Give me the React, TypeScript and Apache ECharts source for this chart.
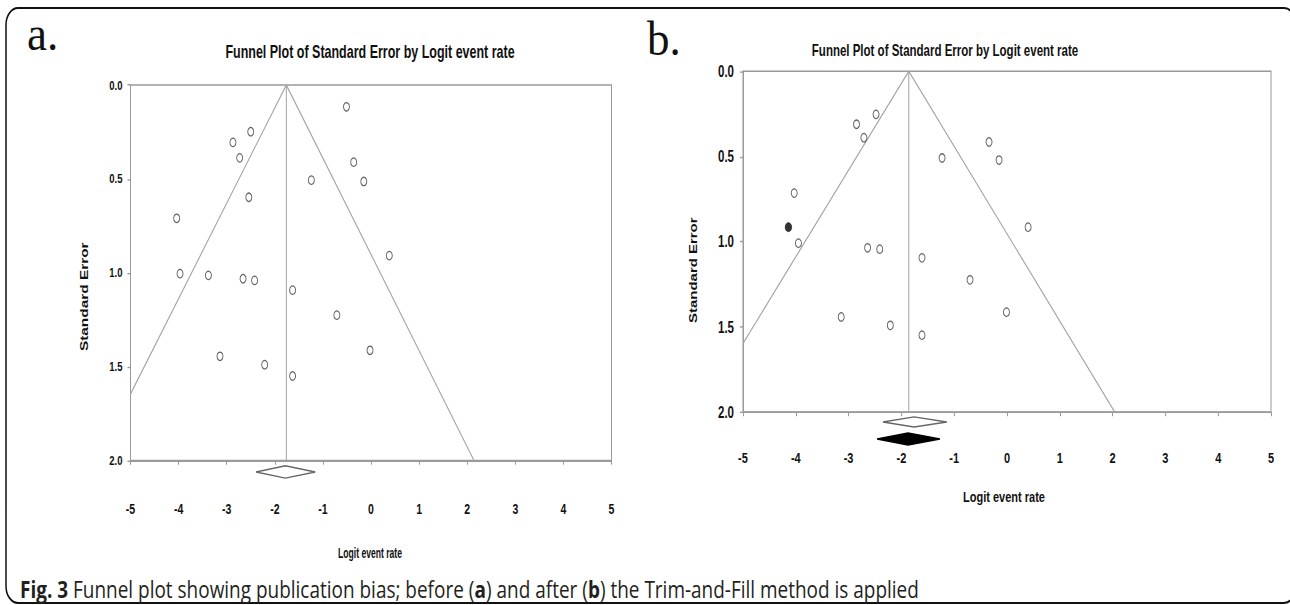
import React, { useEffect, useRef } from "react";
import * as echarts from "echarts";

// ---------- data ----------
const xTickValues = [-5, -4, -3, -2, -1, 0, 1, 2, 3, 4, 5];
const seTickValues = [0, 0.5, 1.0, 1.5, 2.0];

// panel a: observed studies [logit event rate, standard error]
const studiesA: [number, number][] = [
  [-0.51, 0.116], [-2.5, 0.249], [-2.87, 0.306], [-2.73, 0.388], [-0.36, 0.411],
  [-1.24, 0.507], [-0.15, 0.514], [-2.54, 0.598], [-4.04, 0.71], [0.38, 0.909],
  [-3.97, 1.005], [-3.38, 1.014], [-2.66, 1.032], [-2.42, 1.041], [-1.63, 1.093],
  [-0.71, 1.226], [-0.02, 1.413], [-3.14, 1.445], [-2.21, 1.49], [-1.63, 1.55],
];
// panel b: observed studies and the imputed (filled) study
const studiesB: [number, number][] = [
  [-2.48, 0.253], [-2.85, 0.311], [-2.71, 0.39], [-0.34, 0.415], [-1.23, 0.509],
  [-0.15, 0.521], [-4.03, 0.715], [0.4, 0.915], [-3.95, 1.009], [-2.64, 1.036],
  [-2.41, 1.044], [-1.61, 1.095], [-0.7, 1.224], [-0.01, 1.414], [-3.14, 1.442],
  [-2.21, 1.491], [-1.61, 1.549],
];
const imputedB: [number, number][] = [[-4.14, 0.915]];

// funnel outlines (left end, apex, right end) and mean lines
const funnelA: [number, number][] = [[-5, 1.646], [-1.76, 0], [2.14, 2.0]];
const meanLineA: [number, number][] = [[-1.76, 0], [-1.76, 2.0]];
const funnelB: [number, number][] = [[-5, 1.598], [-1.86, 0], [2.04, 2.0]];
const meanLineB: [number, number][] = [[-1.86, 0], [-1.86, 2.0]];

// summary diamonds [point estimate, lower limit, upper limit]
const diamondA: number[][] = [[-1.78, -2.39, -1.16]];
const diamondBObserved: number[][] = [[-1.76, -2.35, -1.14]];
const diamondBAdjusted: number[][] = [[-1.875, -2.46, -1.27]];

// ---------- layout (base coordinates, page is stretched vertically) ----------
const STRETCH = 1.4;
const BASE_H = 432;

const narrow = "'Liberation Sans Narrow', 'Arial Narrow', 'Liberation Sans', Arial, sans-serif";
const sans = "'Liberation Sans', Arial, sans-serif";

function diamondRenderer(offset: number, half: number, fill: string, stroke: string) {
  return (params: any, api: any) => {
    const mid = api.coord([api.value(0), 2]);
    const lo = api.coord([api.value(1), 2]);
    const hi = api.coord([api.value(2), 2]);
    const cy = mid[1] + offset;
    return {
      type: "polygon",
      shape: {
        points: [
          [lo[0], cy],
          [mid[0], cy - half],
          [hi[0], cy],
          [mid[0], cy + half],
        ],
      },
      style: { fill, stroke, lineWidth: 1 },
    };
  };
}

function xAxisFor(gridIndex: number, fontFamily: string, fontSize: number, margin: number) {
  return {
    type: "value" as const,
    gridIndex,
    min: xTickValues[0],
    max: xTickValues[xTickValues.length - 1],
    interval: 1,
    axisLine: { show: true, onZero: false, lineStyle: { color: "#9a9a9a", width: 1 } },
    axisTick: { show: true, length: 3, lineStyle: { color: "#9a9a9a" } },
    splitLine: { show: false },
    axisLabel: {
      margin,
      color: "#111",
      fontWeight: "bold" as const,
      fontSize,
      fontFamily,
      formatter: (v: number) => String(v),
    },
  };
}

function yAxisFor(gridIndex: number, fontFamily: string, fontSize: number, margin: number) {
  return {
    type: "value" as const,
    gridIndex,
    inverse: true,
    min: seTickValues[0],
    max: seTickValues[seTickValues.length - 1],
    interval: 0.5,
    axisLine: { show: true, onZero: false, lineStyle: { color: "#9a9a9a", width: 1 } },
    axisTick: { show: true, length: 3, lineStyle: { color: "#9a9a9a" } },
    splitLine: { show: false },
    axisLabel: {
      margin,
      color: "#111",
      fontWeight: "bold" as const,
      fontSize,
      fontFamily,
      formatter: (v: number) => v.toFixed(1),
    },
  };
}

const lineStyle = { color: "#a3a3a3", width: 1 };

export default function App() {
  const ref = useRef<HTMLDivElement>(null);

  useEffect(() => {
    if (!ref.current) return;
    const chart = echarts.init(ref.current, undefined, { renderer: "svg" });
    const option: any = {
      animation: false,
      backgroundColor: "#fff",
      grid: [
        { left: 130.5, top: 60.7, width: 481, height: 268.2, show: true, borderColor: "#9a9a9a", borderWidth: 1 },
        { left: 743, top: 50.9, width: 528, height: 243.4, show: true, borderColor: "#9a9a9a", borderWidth: 1 },
      ],
      xAxis: [xAxisFor(0, narrow, 10.5, 29), xAxisFor(1, sans, 11, 27)],
      yAxis: [yAxisFor(0, narrow, 9.5, 8), yAxisFor(1, sans, 11.5, 9)],
      graphic: [
        {
          type: "rect",
          silent: true,
          z: -10,
          shape: { x: 6, y: 5.7, width: 1290, height: 425, r: 12 },
          style: { fill: "none", stroke: "#111", lineWidth: 1.5 },
        },
        {
          type: "text", x: 27, y: 24, scaleY: 0.78,
          style: { text: "a.", fontSize: 45, fontFamily: "'Liberation Serif', 'Times New Roman', serif", fill: "#111", align: "left", verticalAlign: "middle" },
        },
        {
          type: "text", x: 647, y: 27.5, scaleY: 0.78,
          style: { text: "b.", fontSize: 45, fontFamily: "'Liberation Serif', 'Times New Roman', serif", fill: "#111", align: "left", verticalAlign: "middle" },
        },
        {
          type: "text", x: 370, y: 37.1,
          style: { text: "Funnel Plot of Standard Error by Logit event rate", fontSize: 12.5, fontWeight: "bold", fontFamily: sans, fill: "#111", align: "center", verticalAlign: "middle" },
        },
        {
          type: "text", x: 945, y: 35.7,
          style: { text: "Funnel Plot of Standard Error by Logit event rate", fontSize: 11.5, fontWeight: "bold", fontFamily: sans, fill: "#111", align: "center", verticalAlign: "middle" },
        },
        {
          type: "text", x: 84, y: 212, rotation: Math.PI / 2,
          style: { text: "Standard Error", fontSize: 11, fontWeight: "bold", fontFamily: sans, fill: "#111", align: "center", verticalAlign: "middle" },
        },
        {
          type: "text", x: 693, y: 193, rotation: Math.PI / 2,
          style: { text: "Standard Error", fontSize: 10.7, fontWeight: "bold", fontFamily: sans, fill: "#111", align: "center", verticalAlign: "middle" },
        },
        {
          type: "text", x: 370, y: 395, scaleX: 0.82,
          style: { text: "Logit event rate", fontSize: 10.5, fontWeight: "bold", fontFamily: sans, fill: "#111", align: "center", verticalAlign: "middle" },
        },
        {
          type: "text", x: 1004, y: 355,
          style: { text: "Logit event rate", fontSize: 11, fontWeight: "bold", fontFamily: sans, fill: "#111", align: "center", verticalAlign: "middle" },
        },
        {
          type: "text", x: 20, y: 420.5, scaleX: 1.15,
          style: {
            text: "{b|Fig. 3} Funnel plot showing publication bias; before ({b|a}) and after ({b|b}) the Trim-and-Fill method is applied",
            fontSize: 16.5,
            fontFamily: "'Open Sans', 'Noto Sans', sans-serif",
            fill: "#231f20",
            align: "left",
            verticalAlign: "middle",
            rich: {
              b: { fontSize: 16.5, fontWeight: "bold", fontFamily: "'Open Sans', 'Noto Sans', sans-serif", fill: "#231f20" },
            },
          },
        },
      ],
      series: [
        { type: "line", xAxisIndex: 0, yAxisIndex: 0, data: funnelA, symbol: "none", lineStyle, silent: true, clip: true },
        { type: "line", xAxisIndex: 0, yAxisIndex: 0, data: meanLineA, symbol: "none", lineStyle, silent: true },
        {
          type: "scatter", xAxisIndex: 0, yAxisIndex: 0, data: studiesA, symbol: "circle", symbolSize: 6,
          itemStyle: { color: "#fff", borderColor: "#3a3a3a", borderWidth: 0.9 }, z: 5,
        },
        {
          type: "custom", xAxisIndex: 0, yAxisIndex: 0, data: diamondA, clip: false,
          encode: { x: [0, 1, 2] },
          renderItem: diamondRenderer(8.2, 4.4, "#fff", "#666"),
        },
        { type: "line", xAxisIndex: 1, yAxisIndex: 1, data: funnelB, symbol: "none", lineStyle, silent: true, clip: true },
        { type: "line", xAxisIndex: 1, yAxisIndex: 1, data: meanLineB, symbol: "none", lineStyle, silent: true },
        {
          type: "scatter", xAxisIndex: 1, yAxisIndex: 1, data: studiesB, symbol: "circle", symbolSize: 6,
          itemStyle: { color: "#fff", borderColor: "#3a3a3a", borderWidth: 0.9 }, z: 5,
        },
        {
          type: "scatter", xAxisIndex: 1, yAxisIndex: 1, data: imputedB, symbol: "circle", symbolSize: 6.5,
          itemStyle: { color: "#000", borderColor: "#000", borderWidth: 0.5 }, z: 5,
        },
        {
          type: "custom", xAxisIndex: 1, yAxisIndex: 1, data: diamondBObserved, clip: false,
          encode: { x: [0, 1, 2] },
          renderItem: diamondRenderer(7.1, 3.6, "#fff", "#666"),
        },
        {
          type: "custom", xAxisIndex: 1, yAxisIndex: 1, data: diamondBAdjusted, clip: false,
          encode: { x: [0, 1, 2] },
          renderItem: diamondRenderer(19.3, 4.3, "#000", "#000"),
        },
      ],
    };
    chart.setOption(option);
    return () => chart.dispose();
  }, []);

  return (
    <div
      ref={ref}
      style={{
        position: "absolute",
        left: 0,
        top: 0,
        width: 1290,
        height: BASE_H,
        transform: `scaleY(${STRETCH})`,
        transformOrigin: "0 0",
        background: "#fff",
      }}
    />
  );
}
